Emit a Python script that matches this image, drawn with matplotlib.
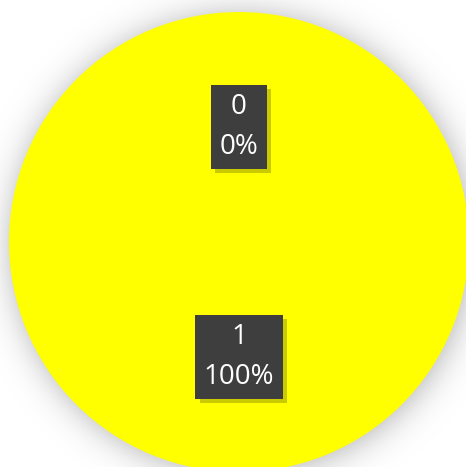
import numpy as np
import matplotlib
matplotlib.use("Agg")
import matplotlib.pyplot as plt
import matplotlib.patheffects as pe

categories = ["0", "1"]
values = [0, 1]
colors = ["#FFFF00", "#FFFF00"]

W, H = 466, 467
fig = plt.figure(figsize=(W / 100, H / 100), dpi=100)
ax = fig.add_axes([0, 0, 1, 1])

cx, cy, r = 239, H - 242, 230

# soft shadow behind the pie
yy, xx = np.mgrid[0:H, 0:W] + 0.5
d = np.hypot(xx - (cx + 2), yy - (cy - 2))
sh = 1.0 / (1.0 + np.exp((d - r) / 10.0))
rgba = np.zeros((H, W, 4))
rgba[..., 3] = 0.30 * sh
ax.imshow(rgba, extent=(0, W, 0, H), origin="lower", zorder=0, interpolation="bilinear")

total = sum(values)
wedges, _ = ax.pie(values, colors=colors, startangle=90, counterclock=False,
                   center=(cx, cy), radius=r, frame=True,
                   wedgeprops=dict(linewidth=0))
for w in wedges:
    w.set_zorder(1)
ax.set_xlim(0, W)
ax.set_ylim(0, H)
ax.set_axis_off()

angle = 90.0
for cat, v in zip(categories, values):
    span = 360.0 * v / total
    mid = np.deg2rad(angle - span / 2)
    angle -= span
    x = cx + 0.5 * r * np.cos(mid)
    y = cy + 0.5 * r * np.sin(mid)
    pct = f"{100 * v / total:.0f}%"
    t = ax.text(x, y, f"{cat}\n{pct}", ha="center", va="center", color="white",
                fontsize=20, family="Open Sans", linespacing=1.55, zorder=5,
                bbox=dict(boxstyle="square,pad=0.3", facecolor="#3e3e3e",
                          edgecolor="none"))
    t.get_bbox_patch().set_path_effects([
        pe.SimplePatchShadow(offset=(3, -3), shadow_rgbFace="#8a8a00", alpha=0.45),
        pe.Normal()])

fig.savefig("out.png", dpi=100)
